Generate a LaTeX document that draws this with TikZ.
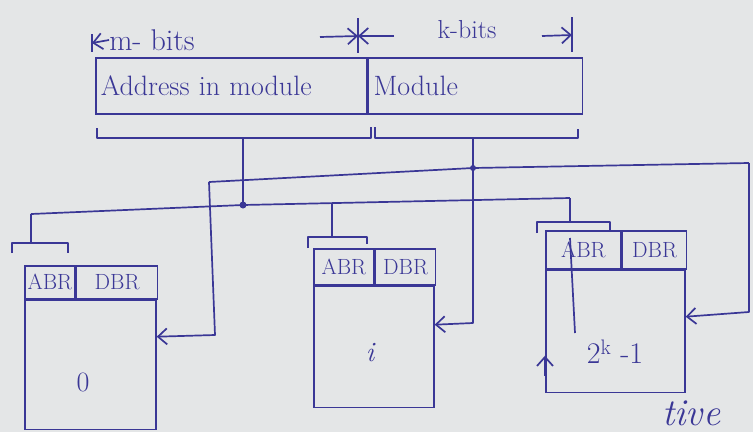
\documentclass[tikz,border=0pt]{standalone}
\usepackage{fontspec}
\usetikzlibrary{arrows.meta,positioning,calc}
\definecolor{inkblue}{HTML}{3A3796}
\definecolor{paper}{HTML}{E4E6E7}

\begin{document}
\begin{tikzpicture}[x=1pt,y=-1pt,
  wire/.style={draw=inkblue,line width=1.7pt,line join=round},
  arr/.style={wire,-{Straight Barb[length=9pt,width=16pt]}},
  field/.style={draw=inkblue,line width=1.7pt,minimum height=56pt,inner xsep=5pt,
               align=left,anchor=north west,text=inkblue,
               font=\fontsize{28}{30}\selectfont},
  regcell/.style={draw=inkblue,line width=1.7pt,inner sep=0pt,anchor=north west,
               text=inkblue,font=\fontsize{22}{24}\selectfont},
  membody/.style={draw=inkblue,line width=1.7pt,inner sep=0pt,anchor=north west},
  ink/.style={text=inkblue,inner sep=0pt}]
  \useasboundingbox (0,0) rectangle (753,432);
  \fill[paper] (0,0) rectangle (753,432);

  % address word
  \node[field,text width=261pt] (addr) at (95,57) {Address in module};
  \node[field,text width=204pt,right=0pt of addr] (modno) {Module};

  % bit widths
  \node[ink,font=\fontsize{30}{32}\selectfont] (mbits) at (152,40) {m- bits};
  \node[ink,font=\fontsize{26}{28}\selectfont] (kbits) at (467,30) {k-bits};
  \coordinate (barL) at (92,43);
  \coordinate (barM) at (358,36);
  \coordinate (barR) at (572,35);
  \coordinate (mtail) at (320,37);
  \coordinate (ktail) at (394,36);
  \coordinate (ktail2) at (542,36);
  \draw[wire] ($(barL)+(0,-9)$) -- ($(barL)+(0,9)$);
  \draw[wire] ($(barM)+(0,-18)$) -- ($(barM)+(0,17)$);
  \draw[wire] ($(barR)+(0,-18)$) -- ($(barR)+(0,17)$);
  \draw[arr] (mbits.west) -- (barL);
  \draw[arr] (mtail) -- (barM);
  \draw[arr] (ktail) -- (barM);
  \draw[arr] (ktail2) -- (barR);

  % brackets under the word
  \draw[wire] (97,128) -- (97,138) -- (371,138) -- (371,127);
  \draw[wire] (375,127) -- (375,138) -- (578,138) -- (578,129);
  \coordinate (brA) at (243,138);
  \coordinate (brB) at (473,138);

  % modules
  \node[regcell,minimum width=50pt,minimum height=33pt] (abr0) at (24,265) {ABR};
  \node[regcell,minimum width=81pt,minimum height=33pt,right=0pt of abr0] (dbr0) {DBR};
  \node[membody,minimum width=131pt,minimum height=129pt] (mem0) at (abr0.south west) {};
  \node[regcell,minimum width=60pt,minimum height=36pt] (abr1) at (313,248) {ABR};
  \node[regcell,minimum width=60pt,minimum height=36pt,right=0pt of abr1] (dbr1) {DBR};
  \node[membody,minimum width=120pt,minimum height=121pt] (mem1) at (abr1.south west) {};
  \node[regcell,minimum width=75pt,minimum height=38pt] (abr2) at (545,230) {ABR};
  \node[regcell,minimum width=64pt,minimum height=38pt,right=0pt of abr2] (dbr2) {DBR};
  \node[membody,minimum width=139pt,minimum height=122pt] (mem2) at (abr2.south west) {};
  \node[ink,font=\fontsize{28}{30}\selectfont] (lab0) at (83,382) {0};
  \node[ink,font=\fontsize{28}{30}\selectfont\itshape] (lab1) at (370,353) {i};
  \node[ink,font=\fontsize{30}{32}\selectfont] (lab2) at (615,352) {2\textsuperscript{k} -1};

  % module select lines
  \coordinate (jA) at (243,205);
  \coordinate (jB) at (473,168);
  \coordinate (busA0) at (31,214);
  \coordinate (busA1) at (570,198);
  \coordinate (busB0) at (209,182);
  \coordinate (busB1) at (749,163);
  \draw[wire] (brA) -- (jA);
  \draw[wire] (brB) -- (jB);
  \draw[wire] (busA0) -- (jA) -- (busA1);
  \draw[wire] (busB0) -- (jB) -- (busB1);
  \fill[inkblue] (jA) circle (3.5pt);
  \fill[inkblue] (jB) circle (3pt);

  \draw[wire] (12,253) -- (12,243) -- (68,243) -- (68,253);
  \draw[wire] (busA0) -- (31,243);
  \draw[wire] (308,248) -- (308,237) -- (367,237) -- (367,244);
  \draw[wire] (332,203) -- (332,237);
  \draw[wire] (537,233) -- (537,222) -- (610,222) -- (610,231);
  \draw[wire] (busA1) -- (570,222);
  \draw[wire] (570,238) -- (575,333);

  \draw[arr] (busB0) -- (215,335) -- ($(mem0.north east)+(0,37)$);
  \draw[arr] (jB) -- (473,323) -- ($(mem1.north east)+(0,39)$);
  \draw[arr] (busB1) -- (749,312) -- ($(mem2.north east)+(0,47)$);
  \draw[arr] ($(mem2.north west)+(0,106)$) -- ($(mem2.north west)+(0,86)$);

  \node[ink,font=\fontsize{38}{40}\selectfont\itshape,anchor=base west] (tail) at (662,425) {tive};
\end{tikzpicture}
\end{document}
